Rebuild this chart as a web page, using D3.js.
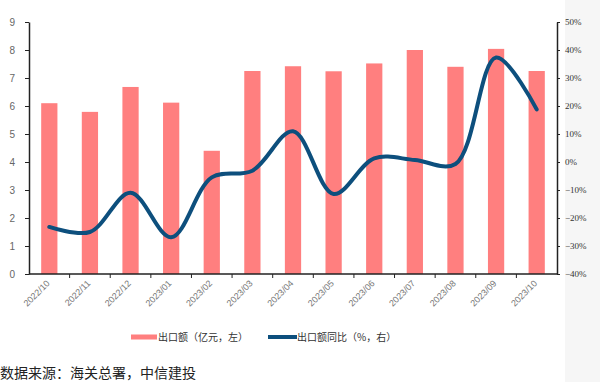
<!DOCTYPE html>
<html>
<head>
<meta charset="utf-8">
<script src="https://cdn.jsdelivr.net/npm/d3@7"></script>
<style>
  body { margin: 0; background: #fff; }
  svg { display: block; font-family: "Noto Sans CJK SC", "DejaVu Sans", sans-serif; }
</style>
</head>
<body>
<svg id="chart" width="600" height="382"></svg>
<script>
const months = ["2022/10", "2022/11", "2022/12", "2023/01", "2023/02", "2023/03", "2023/04",
    "2023/05", "2023/06", "2023/07", "2023/08", "2023/09", "2023/10"];
const exportValue = [6.10, 5.79, 6.68, 6.12, 4.40, 7.25, 7.42, 7.24, 7.52, 8.00, 7.40, 8.04, 7.25];
const exportYoY = [-23.2, -25.0, -11.0, -26.9, -5.5, -3.1, 11.0, -11.4, 1.3, 0.7, -0.7, 37.3, 18.8];
const leftTicks = [0, 1, 2, 3, 4, 5, 6, 7, 8, 9];
const rightTicks = [-40, -30, -20, -10, 0, 10, 20, 30, 40, 50];
const legendLabels = ["出口额（亿元，左）", "出口额同比（%，右）"];
const sourceText = "数据来源：海关总署，中信建投";

const barColor = "#ff7f7f";
const lineColor = "#0d4f7d";

const svg = d3.select("#chart");

// light panel on the right edge
svg.append("rect")
    .attr("x", 565).attr("y", 0)
    .attr("width", 35).attr("height", 382)
    .attr("fill", "#f6f6f6");

const plot = { left: 29, right: 557, top: 22, bottom: 274 };

const x = d3.scaleBand()
    .domain(months)
    .range([plot.left, plot.right])
    .paddingInner(0.6)
    .paddingOuter(0.3);

const yLeft = d3.scaleLinear().domain([0, 9]).range([plot.bottom, plot.top]);
const yRight = d3.scaleLinear().domain([-40, 50]).range([plot.bottom, plot.top]);

// bars
svg.append("g")
    .selectAll("rect")
    .data(months)
    .join("rect")
    .attr("x", d => x(d))
    .attr("width", x.bandwidth())
    .attr("y", (d, i) => yLeft(exportValue[i]))
    .attr("height", (d, i) => yLeft(0) - yLeft(exportValue[i]))
    .attr("fill", barColor);

// smoothed line
const line = d3.line()
    .x((d, i) => x(months[i]) + x.bandwidth() / 2)
    .y(d => yRight(d))
    .curve(d3.curveCatmullRom.alpha(0.5));

svg.append("path")
    .datum(exportYoY)
    .attr("d", line)
    .attr("fill", "none")
    .attr("stroke", lineColor)
    .attr("stroke-width", 4)
    .attr("stroke-linecap", "round");

// left axis
const leftAxis = svg.append("g")
    .attr("transform", `translate(${plot.left},0)`)
    .call(d3.axisLeft(yLeft).tickValues(leftTicks).tickSize(4).tickPadding(10).tickSizeOuter(0));
leftAxis.select(".domain").attr("stroke", "#222").attr("stroke-width", 1.5);
leftAxis.selectAll(".tick line").attr("stroke", "#222");
leftAxis.selectAll("text").attr("fill", "#666").attr("font-size", 10)
    .attr("font-family", "Liberation Sans, sans-serif");

// right axis
const rightAxis = svg.append("g")
    .attr("transform", `translate(${plot.right},0)`)
    .call(d3.axisRight(yRight).tickValues(rightTicks).tickSize(3).tickPadding(5).tickSizeOuter(0)
        .tickFormat(d => (d < 0 ? "−" + Math.abs(d) : d) + "%"));
rightAxis.select(".domain").attr("stroke", "#222").attr("stroke-width", 1.5);
rightAxis.selectAll(".tick line").attr("stroke", "#222");
rightAxis.selectAll("text").attr("fill", "#333").attr("font-size", 9)
    .attr("font-family", "Liberation Serif, serif");

// bottom axis: line, ticks between categories, rotated labels
const bottom = svg.append("g");
bottom.append("line")
    .attr("x1", plot.left).attr("x2", plot.right)
    .attr("y1", plot.bottom).attr("y2", plot.bottom)
    .attr("stroke", "#222").attr("stroke-width", 1.5);
const step = x.step();
bottom.selectAll(".sep")
    .data(months.slice(1))
    .join("line")
    .attr("x1", d => x(d) - (step - x.bandwidth()) / 2)
    .attr("x2", d => x(d) - (step - x.bandwidth()) / 2)
    .attr("y1", plot.bottom).attr("y2", plot.bottom + 4)
    .attr("stroke", "#222");
bottom.selectAll("text")
    .data(months)
    .join("text")
    .attr("transform", d => `translate(${x(d) + x.bandwidth() / 2 + 1},${plot.bottom + 10}) rotate(-45)`)
    .attr("text-anchor", "end")
    .attr("font-size", 9)
    .attr("font-family", "Liberation Sans, sans-serif")
    .attr("fill", "#777")
    .text(d => d);

// legend
const legend = svg.append("g").attr("transform", "translate(0,337)");
legend.append("rect").attr("x", 131).attr("y", -2.5).attr("width", 26).attr("height", 5).attr("fill", barColor);
legend.append("text").attr("x", 158).attr("y", 4).attr("font-size", 10).attr("fill", "#333").text(legendLabels[0]);
legend.append("line").attr("x1", 268).attr("x2", 297).attr("y1", 0).attr("y2", 0)
    .attr("stroke", lineColor).attr("stroke-width", 4);
legend.append("text").attr("x", 297).attr("y", 4).attr("font-size", 10).attr("fill", "#333").text(legendLabels[1]);

// source
svg.append("text")
    .attr("x", 0).attr("y", 378)
    .attr("font-size", 14)
    .attr("fill", "#222")
    .text(sourceText);
</script>
</body>
</html>
